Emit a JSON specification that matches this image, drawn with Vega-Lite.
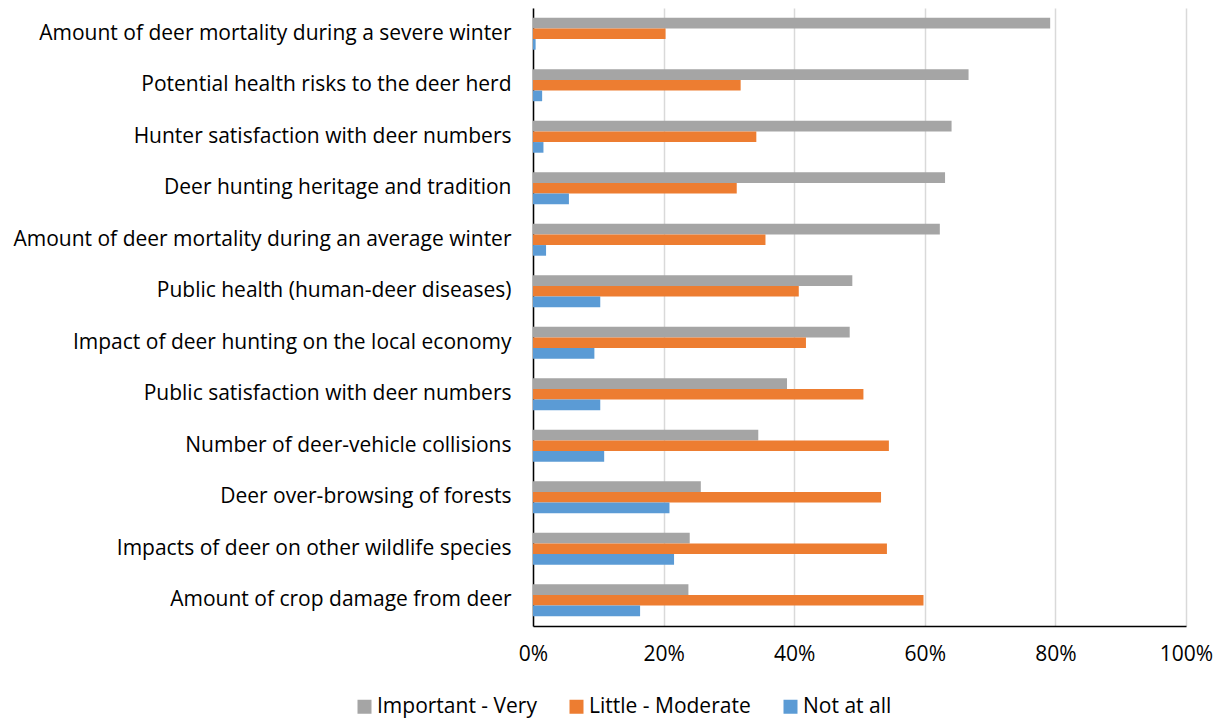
{
  "$schema": "https://vega.github.io/schema/vega-lite/v6.json",
  "width": 653,
  "height": 618,
  "autosize": {"type": "none"},
  "padding": {"left": 533, "top": 8, "right": 34, "bottom": 93},
  "config": {"view": {"stroke": null}, "font": "Open Sans"},
  "data": {
    "values": [
      {"category": "Amount of deer mortality during a severe winter", "series": "Important - Very", "value": 0.792},
      {"category": "Amount of deer mortality during a severe winter", "series": "Little - Moderate", "value": 0.203},
      {"category": "Amount of deer mortality during a severe winter", "series": "Not at all", "value": 0.004},
      {"category": "Potential health risks to the deer herd", "series": "Important - Very", "value": 0.667},
      {"category": "Potential health risks to the deer herd", "series": "Little - Moderate", "value": 0.318},
      {"category": "Potential health risks to the deer herd", "series": "Not at all", "value": 0.014},
      {"category": "Hunter satisfaction with deer numbers", "series": "Important - Very", "value": 0.641},
      {"category": "Hunter satisfaction with deer numbers", "series": "Little - Moderate", "value": 0.342},
      {"category": "Hunter satisfaction with deer numbers", "series": "Not at all", "value": 0.016},
      {"category": "Deer hunting heritage and tradition", "series": "Important - Very", "value": 0.631},
      {"category": "Deer hunting heritage and tradition", "series": "Little - Moderate", "value": 0.312},
      {"category": "Deer hunting heritage and tradition", "series": "Not at all", "value": 0.055},
      {"category": "Amount of deer mortality during an average winter", "series": "Important - Very", "value": 0.623},
      {"category": "Amount of deer mortality during an average winter", "series": "Little - Moderate", "value": 0.356},
      {"category": "Amount of deer mortality during an average winter", "series": "Not at all", "value": 0.020},
      {"category": "Public health (human-deer diseases)", "series": "Important - Very", "value": 0.489},
      {"category": "Public health (human-deer diseases)", "series": "Little - Moderate", "value": 0.407},
      {"category": "Public health (human-deer diseases)", "series": "Not at all", "value": 0.103},
      {"category": "Impact of deer hunting on the local economy", "series": "Important - Very", "value": 0.485},
      {"category": "Impact of deer hunting on the local economy", "series": "Little - Moderate", "value": 0.418},
      {"category": "Impact of deer hunting on the local economy", "series": "Not at all", "value": 0.094},
      {"category": "Public satisfaction with deer numbers", "series": "Important - Very", "value": 0.389},
      {"category": "Public satisfaction with deer numbers", "series": "Little - Moderate", "value": 0.506},
      {"category": "Public satisfaction with deer numbers", "series": "Not at all", "value": 0.103},
      {"category": "Number of deer-vehicle collisions", "series": "Important - Very", "value": 0.345},
      {"category": "Number of deer-vehicle collisions", "series": "Little - Moderate", "value": 0.545},
      {"category": "Number of deer-vehicle collisions", "series": "Not at all", "value": 0.109},
      {"category": "Deer over-browsing of forests", "series": "Important - Very", "value": 0.257},
      {"category": "Deer over-browsing of forests", "series": "Little - Moderate", "value": 0.533},
      {"category": "Deer over-browsing of forests", "series": "Not at all", "value": 0.209},
      {"category": "Impacts of deer on other wildlife species", "series": "Important - Very", "value": 0.240},
      {"category": "Impacts of deer on other wildlife species", "series": "Little - Moderate", "value": 0.542},
      {"category": "Impacts of deer on other wildlife species", "series": "Not at all", "value": 0.216},
      {"category": "Amount of crop damage from deer", "series": "Important - Very", "value": 0.238},
      {"category": "Amount of crop damage from deer", "series": "Little - Moderate", "value": 0.598},
      {"category": "Amount of crop damage from deer", "series": "Not at all", "value": 0.164}
    ]
  },
  "mark": {"type": "bar"},
  "encoding": {
    "y": {
      "field": "category",
      "type": "nominal",
      "sort": null,
      "scale": {"paddingInner": 0.38, "paddingOuter": 0.19},
      "axis": {
        "title": null,
        "domain": true,
        "domainColor": "#000000",
        "domainWidth": 1.5,
        "ticks": false,
        "grid": false,
        "labelPadding": 22,
        "labelFontSize": 21,
        "labelLimit": 700,
        "labelColor": "#000000"
      }
    },
    "yOffset": {
      "field": "series",
      "type": "nominal",
      "sort": ["Important - Very", "Little - Moderate", "Not at all"]
    },
    "x": {
      "field": "value",
      "type": "quantitative",
      "scale": {"domain": [0, 1], "nice": false},
      "axis": {
        "title": null,
        "values": [0, 0.2, 0.4, 0.6, 0.8, 1],
        "format": ".0%",
        "domain": true,
        "domainColor": "#000000",
        "domainWidth": 1.5,
        "ticks": false,
        "grid": true,
        "gridColor": "#d9d9d9",
        "gridWidth": 1.5,
        "labelPadding": 17,
        "labelFontSize": 21,
        "labelColor": "#000000",
        "labelFlush": false
      }
    },
    "color": {
      "field": "series",
      "type": "nominal",
      "sort": ["Important - Very", "Little - Moderate", "Not at all"],
      "scale": {
        "domain": ["Important - Very", "Little - Moderate", "Not at all"],
        "range": ["#a5a5a5", "#ed7d31", "#5b9bd5"]
      },
      "legend": {
        "title": null,
        "orient": "none",
        "direction": "horizontal",
        "legendX": -179,
        "legendY": 688,
        "symbolType": "square",
        "symbolSize": 196,
        "symbolStrokeWidth": 0,
        "labelFontSize": 21,
        "labelColor": "#000000",
        "labelOffset": 2,
        "columnPadding": 29,
        "labelLimit": 300
      }
    }
  }
}
